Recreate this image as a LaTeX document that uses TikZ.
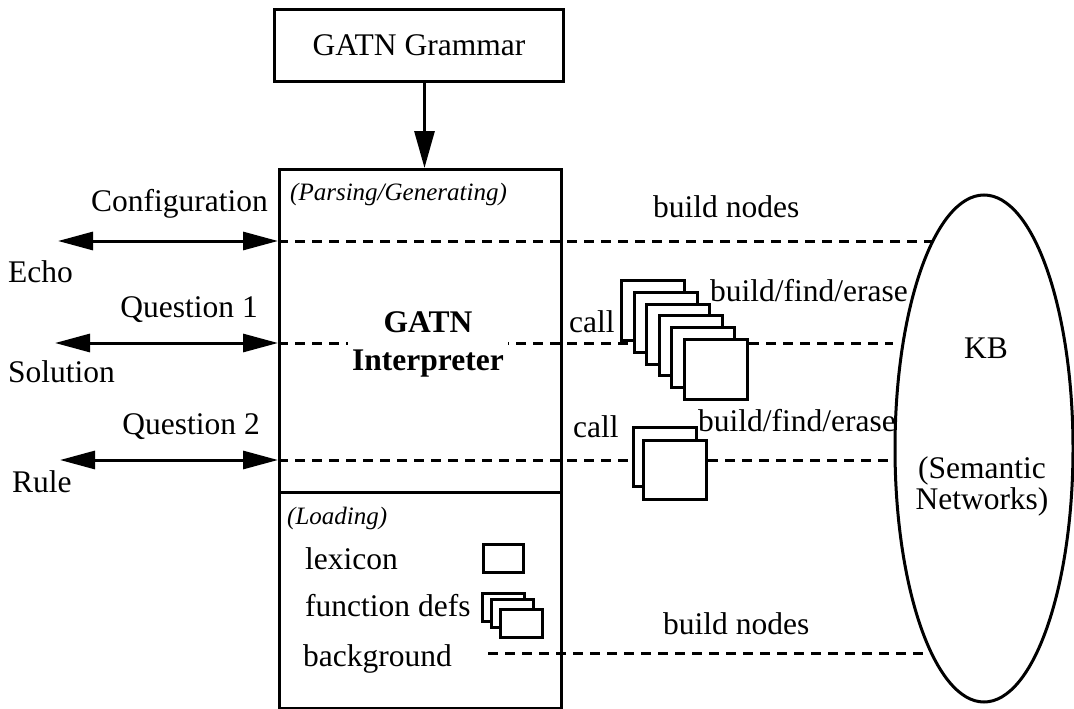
\documentclass[tikz,border=0pt]{standalone}
\usepackage{fontspec}
\setmainfont{Liberation Serif}
\usetikzlibrary{arrows.meta,shapes.geometric}

\begin{document}
\begin{tikzpicture}[x=1pt,y=-1pt,
  lbl/.style={font=\fontsize{31.5}{38}\selectfont, inner sep=0pt, text height=22pt, text depth=7pt},
  multi/.style={font=\fontsize{31.5}{38}\selectfont, inner sep=0pt, align=center},
  note/.style={font=\fontsize{25}{30}\selectfont\itshape, inner sep=0pt, text height=18pt, text depth=6pt},
  box/.style={draw, line width=3pt, fill=white, inner sep=0pt},
  dline/.style={line width=3pt, dash pattern=on 10pt off 7pt},
  io/.style={line width=3pt, {Triangle[length=35pt,width=18pt]}-{Triangle[length=35pt,width=18pt]}},
  feed/.style={line width=3pt, -{Triangle[length=37pt,width=20pt]}}]

\fill[white] (0,0) rectangle (1074,709);
\useasboundingbox (0,0) rectangle (1074,709);

% grammar and interpreter
\node[box, minimum width=289pt, minimum height=72pt, anchor=north west,
      font=\fontsize{31.5}{38}\selectfont] (gram) at (273,8) {GATN Grammar};
\node[box, minimum width=282pt, minimum height=539pt, anchor=north west] (main) at (278,168) {};
\coordinate (divl) at (278,492);
\draw[line width=3pt] (divl) -- (divl -| main.east);
\draw[feed] ([xshift=5.5pt]gram.south) -- ([xshift=5.5pt]gram.south |- main.north);

% knowledge base
\node[draw, ellipse, line width=3pt, inner sep=0pt, minimum width=178pt, minimum height=507pt] (kb) at (984,448.5) {};
\node[lbl] (kbl) at (986,351) {KB};
\node[multi, font=\fontsize{31.5}{31}\selectfont] (sem) at (982,486) {(Semantic\\Networks)};

% input / output ports
\coordinate (l1) at (58,241);
\coordinate (l2) at (55,343);
\coordinate (l3) at (60,460);
\coordinate (p1) at (l1 -| main.west);
\coordinate (p2) at (l2 -| main.west);
\coordinate (p3) at (l3 -| main.west);
\draw[io] (l1) -- (p1);
\draw[io] (l2) -- (p2);
\draw[io] (l3) -- (p3);

\node[lbl, anchor=east] (cfg) at (268,204) {Configuration};
\node[lbl, anchor=west] (echo) at (8,275) {Echo};
\node[lbl, anchor=east] (q1) at (258,310) {Question 1};
\node[lbl, anchor=west] (sol) at (8,375) {Solution};
\node[lbl, anchor=east] (q2) at (260,427) {Question 2};
\node[lbl, anchor=west] (rule) at (12,485) {Rule};

% ends of the links on the knowledge base
\coordinate (e1) at (932,241);
\coordinate (e2) at (893,343);
\coordinate (e3) at (895,460);
\coordinate (e4) at (929,653);

% function stacks
\foreach \i in {1,...,6}{
  \node[box, minimum width=63pt, minimum height=60pt, anchor=north west]
    (s\i) at ({620+12.6*(\i-1)},{279+11.8*(\i-1)}) {};
}
\node[box, minimum width=63pt, minimum height=59pt, anchor=north west] (t1) at (632,426) {};
\node[box, minimum width=63pt, minimum height=59pt, anchor=north west] (t2) at (642,439) {};

% dashed links
\draw[dline] (p1) -- (e1);
\draw[dline] (p2) -- (p2 -| s2.west);
\draw[dline] (s6.east |- p2) -- (e2);
\draw[dline] (p3) -- (p3 -| t1.west);
\draw[dline] (t2.east |- p3) -- (e3);

\node[note, anchor=west] (parse) at (290,194) {(Parsing/Generating)};
\node[multi, font=\fontsize{31.5}{38}\selectfont\bfseries, fill=white, inner sep=4pt] (interp) at (428,344) {GATN\\Interpreter};

\node[lbl, anchor=west] (bn1) at (653,210) {build nodes};
\node[lbl, anchor=west] (call1) at (569,325) {call};
\node[lbl, anchor=west] (bfe1) at (710,294) {build/find/erase};
\node[lbl, anchor=west] (call2) at (573,430) {call};
\node[lbl, anchor=west] (bfe2) at (698,424) {build/find/erase};

% loading section
\node[note, anchor=west] (load) at (287,518) {(Loading)};
\node[lbl, anchor=west] (lex) at (305,562) {lexicon};
\node[lbl, anchor=west] (fdefs) at (305,609) {function defs};
\node[lbl, anchor=west] (bg) at (303,659) {background};
\node[box, minimum width=40pt, minimum height=28pt, anchor=north west] (lexbox) at (482,543) {};
\node[box, minimum width=42pt, minimum height=28pt, anchor=north west] (f1) at (481,592) {};
\node[box, minimum width=42pt, minimum height=28pt, anchor=north west] (f2) at (490,598) {};
\node[box, minimum width=42pt, minimum height=28pt, anchor=north west] (f3) at (499,608) {};

\coordinate (bgs) at (488,653);
\draw[dline] (bgs) -- (e4);
\node[lbl, anchor=west] (bn2) at (663,627) {build nodes};
\end{tikzpicture}
\end{document}
